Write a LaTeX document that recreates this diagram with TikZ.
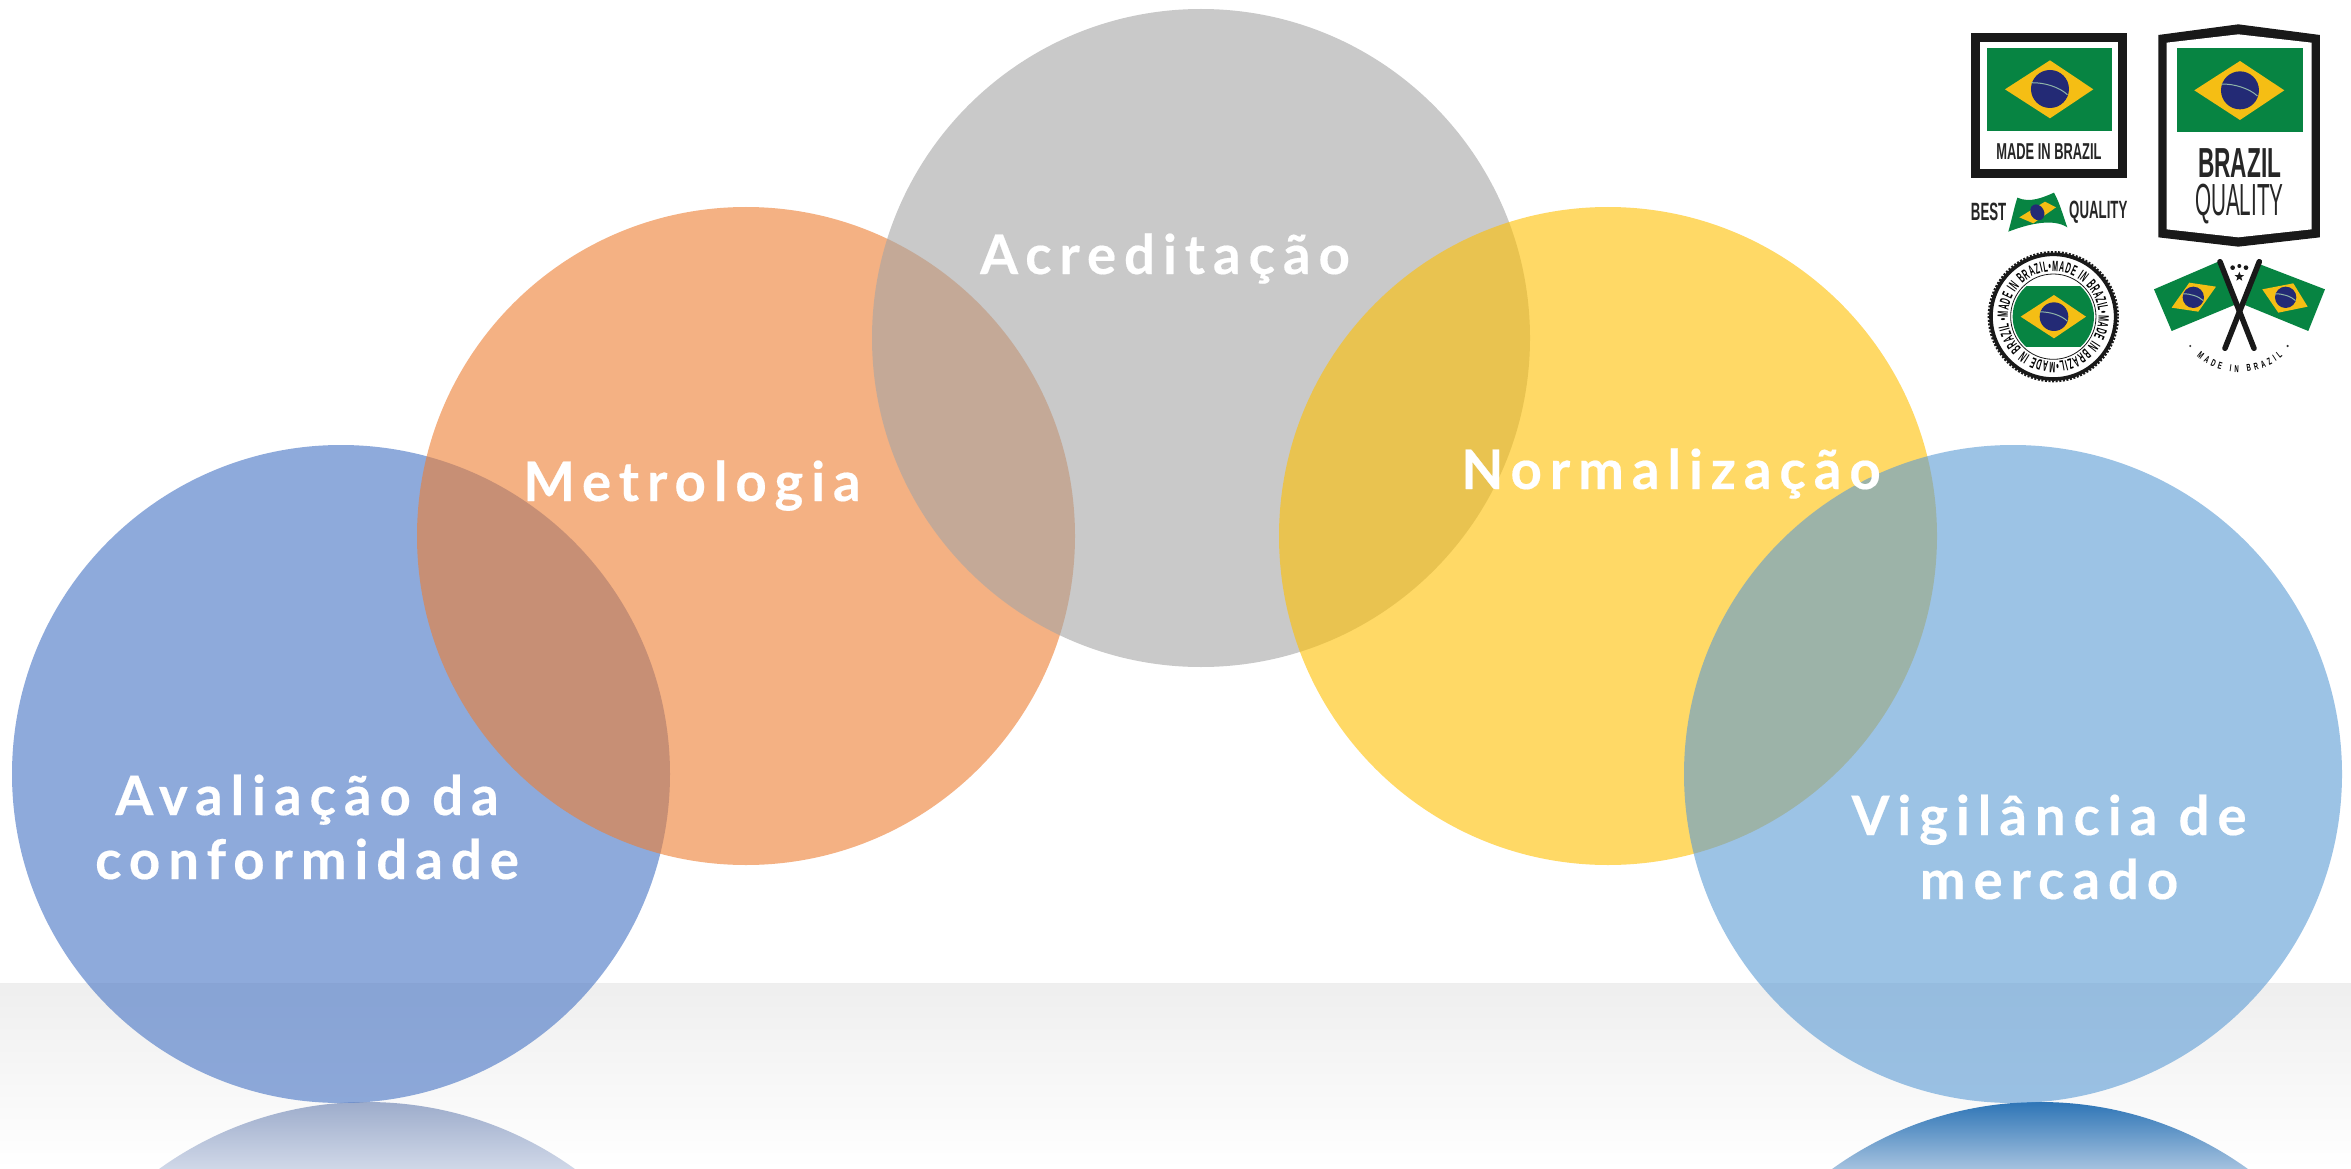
\documentclass[tikz,border=0pt]{standalone}
\usepackage{fontspec}
\usetikzlibrary{decorations.text,shapes.geometric}
\newfontfamily\labfont[LetterSpace=14.5,Ligatures=NoCommon,BoldFeatures={FakeBold=0.35}]{Lato}
\newfontfamily\logofont{Liberation Sans}
\newfontfamily\stampfont[FakeStretch=.47]{Liberation Sans}
\newfontfamily\arcfont[FakeStretch=.6]{Liberation Sans}
\definecolor{cblue}{HTML}{4472C4}
\definecolor{corange}{HTML}{ED7D31}
\definecolor{cgray}{HTML}{A5A5A5}
\definecolor{cyellow}{HTML}{FFC000}
\definecolor{clight}{HTML}{5B9BD5}
\definecolor{flaggreen}{HTML}{078442}
\definecolor{flagyellow}{HTML}{F5BE14}
\definecolor{flagnavy}{HTML}{232A75}
\definecolor{flagband}{HTML}{8FB5A8}
\definecolor{refla}{HTML}{9DACCB}
\definecolor{reflb}{HTML}{D0D8E8}
\definecolor{reflc}{HTML}{2E75B6}
\definecolor{refld}{HTML}{A5C2DF}
\tikzset{
  disc/.style={fill=#1,fill opacity=.6,draw=none},
  lab/.style={font=\fontsize{54.6}{64}\selectfont\labfont\bfseries,text=white,inner sep=0pt,align=center},
  logotxt/.style={inner sep=0pt,text=black!85,font=\logofont},
  fgreen/.style={fill=flaggreen,draw=none},
  fyellow/.style={fill=flagyellow,draw=none},
  fnavy/.style={fill=flagnavy,draw=none},
  fband/.style={draw=flagband,line width=1pt},
}
% centre x, centre y, radius of the globe
\newcommand{\globemark}[3]{%
  \fill[fnavy] (#1,#2) circle (#3);
  \draw[fband] (#1-.98*#3,#2-.33*#3) .. controls (#1-.3*#3,#2-.35*#3) and (#1+.5*#3,#2-.1*#3) .. (#1+.92*#3,#2+.3*#3);
}
\begin{document}
\begin{tikzpicture}[x=1pt,y=-1pt]
\useasboundingbox (0,0) rectangle (2351,1169);
\begin{scope}
\clip (0,0) rectangle (2351,1169);
\fill[white] (0,0) rectangle (2351,1169);
\shade[top color=black!6.5,bottom color=white,draw=none] (0,983) rectangle (2351,1169);
% reflections
\begin{scope}
  \clip (367,1458) circle (356);
  \shade[top color=refla,bottom color=reflb,draw=none] (0,1102) rectangle (800,1169);
\end{scope}
\begin{scope}
  \clip (2040,1458) circle (356);
  \shade[top color=reflc,bottom color=refld,draw=none] (1600,1102) rectangle (2351,1169);
\end{scope}
% discs
\fill[disc=cblue]   (341,774)  circle (329);
\fill[disc=corange] (746,536)  circle (329);
\fill[disc=cgray]   (1201,338) circle (329);
\fill[disc=cyellow] (1608,536) circle (329);
\fill[disc=clight]  (2013,774) circle (329);
\end{scope}
% labels
\node[lab,anchor=base] (acr) at (1165,274) {Acreditação};
\node[lab,anchor=base] (met) at (692,501) {Metrologia};
\node[lab,anchor=base] (nor) at (1671,489) {Normalização};
\node[lab] (ava) at (307,827) {Avaliação da\\conformidade};
\node[lab] (vig) at (2049,847) {Vigilância de\\mercado};
% logos, in 3x coordinates of the corner
\begin{scope}[x=.33333pt,y=-.33333pt,shift={(5790,0)}]
  % square label
  \fill[black!90] (123,100) rectangle (592,535);
  \fill[white] (150,127) rectangle (565,508);
  \fill[fgreen] (170,143) rectangle (545,392);
  \fill[fyellow] (225,268) -- (360,181) -- (490,268) -- (360,355) -- cycle;
  \globemark{360}{267}{57}
  \node[logotxt,xscale=.56,font=\logofont\bfseries\fontsize{23}{23}\selectfont] (made) at (357,455) {MADE IN BRAZIL};
  % shield label
  \fill[black!90] (685,105) -- (925,73) -- (1170,105) -- (1170,712) -- (925,740) -- (685,712) -- cycle;
  \fill[white] (710,128) -- (925,103) -- (1145,128) -- (1145,688) -- (925,712) -- (710,688) -- cycle;
  \fill[fgreen] (740,145) rectangle (1118,397);
  \fill[fyellow] (793,271) -- (930,183) -- (1063,271) -- (930,360) -- cycle;
  \globemark{930}{271}{57}
  \node[logotxt,xscale=.54,font=\logofont\bfseries\fontsize{42}{42}\selectfont] (braz) at (929,488) {BRAZIL};
  \node[logotxt,xscale=.46,font=\logofont\fontsize{45}{45}\selectfont] (qual) at (928,612) {QUALITY};
  % best quality
  \node[logotxt,xscale=.53,font=\logofont\bfseries\fontsize{25}{25}\selectfont] (best) at (176,637) {BEST};
  \node[logotxt,xscale=.53,font=\logofont\bfseries\fontsize{25}{25}\selectfont] (qbest) at (505,637) {QUALITY};
  \fill[fgreen] (262,593) .. controls (300,610) and (340,592) .. (372,578)
     .. controls (390,610) and (400,650) .. (412,682)
     .. controls (370,655) and (300,670) .. (235,695)
     .. controls (245,660) and (252,625) .. cycle;
  \fill[fyellow] (268,652) -- (345,605) -- (378,622) -- (310,670) -- cycle;
  \fill[fnavy] (322,637) ellipse [x radius=20,y radius=25,rotate=30];
  % round stamp
  \fill[white] (370,950) circle (190);
  \draw[black!90,line width=3.6pt] (370,950) circle (187);
  \draw[black!90,line width=2pt,dash pattern=on 2pt off 1.6pt] (370,950) circle (194);
  \draw[black!90,line width=.8pt] (370,950) circle (128);
  \begin{scope}
    \clip (370,950) circle (122);
    \fill[fgreen] (245,858) rectangle (495,1042);
  \end{scope}
  \fill[fyellow] (272,950) -- (372,885) -- (468,950) -- (372,1015) -- cycle;
  \globemark{372}{950}{43}
  \path[decorate,decoration={text along path,text align=fit to path,
     text={|\stampfont\bfseries\fontsize{15}{15}\selectfont|•MADE IN BRAZIL•MADE IN BRAZIL•MADE IN BRAZIL•MADE IN BRAZIL}}]
     (370,950) ++(175:136) arc[start angle=175,end angle=532,radius=136];
  % crossed flags
  \fill[fgreen] (672,868) -- (865,785) -- (925,910) -- (725,993) -- cycle;
  \fill[fyellow] (725,923) -- (778,848) -- (858,860) -- (805,935) -- cycle;
  \globemark{790}{892}{32}
  \fill[fgreen] (990,793) -- (1185,868) -- (1135,993) -- (945,915) -- cycle;
  \fill[fyellow] (997,868) -- (1090,850) -- (1133,920) -- (1045,938) -- cycle;
  \globemark{1067}{892}{32}
  \draw[black!90,line width=5.5pt,line cap=round] (870,785) -- (972,1045);
  \draw[black!90,line width=5.5pt,line cap=round] (988,785) -- (885,1045);
  \node[star,star points=5,star point ratio=2.4,fill=black!90,minimum size=10pt,inner sep=0pt] (st1) at (928,830) {};
  \fill[black!90] (908,803) circle (7) (928,798) circle (6) (948,803) circle (7);
  \fill[black!80] (781,1038) circle (3.5) (1073,1038) circle (3.5);
  \path[decorate,decoration={text along path,text align=fit to path,
     text={|\arcfont\bfseries\fontsize{10}{10}\selectfont|MADE IN BRAZIL}}]
     (800,1070) .. controls (870,1132) and (985,1132) .. (1058,1070);
\end{scope}
\end{tikzpicture}
\end{document}
